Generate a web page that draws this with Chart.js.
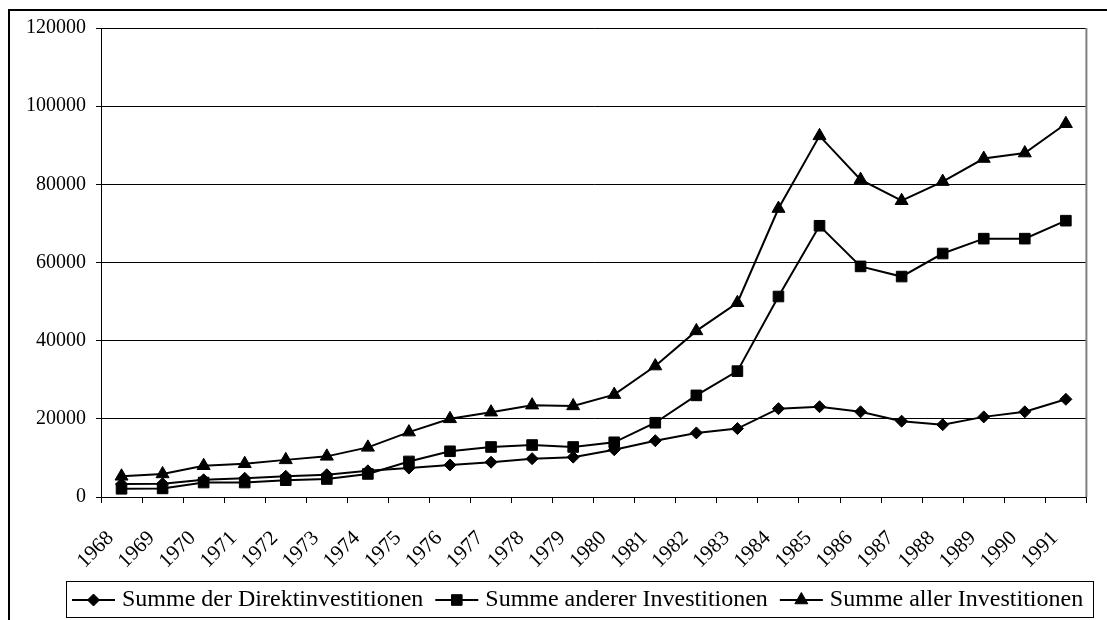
<!DOCTYPE html>
<html>
<head>
<meta charset="utf-8">
<title>Investitionen 1968-1991</title>
<script src="https://cdn.jsdelivr.net/npm/chart.js@4.4.1/dist/chart.umd.min.js"></script>
<style>
  html, body { margin: 0; padding: 0; background: #fff; }
  #wrap { width: 1107px; height: 620px; position: relative; }
</style>
</head>
<body>
<div id="wrap"><canvas id="chart"></canvas></div>
<script>
const years = ['1968', '1969', '1970', '1971', '1972', '1973', '1974', '1975', '1976', '1977', '1978', '1979',
  '1980', '1981', '1982', '1983', '1984', '1985', '1986', '1987', '1988', '1989', '1990', '1991'];

const direkt = [3300, 3400, 4400, 4800, 5300, 5700, 6700, 7400, 8200, 8900, 9800, 10200,
  12100, 14400, 16400, 17500, 22600, 23100, 21800, 19400, 18500, 20500, 21800, 25000];
const andere = [2100, 2200, 3700, 3700, 4300, 4600, 5900, 9100, 11700, 12800, 13300, 12800,
  14000, 19000, 26000, 32200, 51300, 69400, 59000, 56400, 62300, 66100, 66100, 70700];
const alle = [5300, 5900, 8000, 8500, 9500, 10400, 12700, 16600, 20000, 21700, 23500, 23300,
  26200, 33500, 42500, 49700, 73800, 92400, 81200, 75800, 80700, 86600, 88000, 95500];

const seriesNames = ['Summe der Direktinvestitionen', 'Summe anderer Investitionen', 'Summe aller Investitionen'];
const yTicks = [0, 20000, 40000, 60000, 80000, 100000, 120000];

const serif = '"Liberation Serif", "Times New Roman", serif';

function series(label, data, style, radius) {
  return {
    label,
    data,
    borderColor: '#000',
    borderWidth: 2,
    backgroundColor: '#000',
    pointStyle: style,
    pointRadius: radius,
    pointBackgroundColor: '#000',
    pointBorderColor: '#000',
    pointBorderWidth: 1,
    tension: 0,
  };
}

// excel-like frame, plot border and boxed legend
const decor = {
  id: 'decor',
  beforeDraw(chart) {
    const { ctx } = chart;
    ctx.save();
    ctx.fillStyle = '#fff';
    ctx.fillRect(0, 0, chart.width, chart.height);
    ctx.strokeStyle = '#000';
    ctx.lineWidth = 2;
    ctx.beginPath();
    ctx.moveTo(9, chart.height);
    ctx.lineTo(9, 10);
    ctx.lineTo(chart.width, 10);
    ctx.stroke();
    ctx.restore();
  },
  afterDraw(chart) {
    const { ctx, chartArea } = chart;
    ctx.save();
    ctx.strokeStyle = '#808080';
    ctx.lineWidth = 2;
    ctx.beginPath();
    ctx.moveTo(chartArea.right, chartArea.top);
    ctx.lineTo(chartArea.right, chartArea.bottom);
    ctx.stroke();

    // legend
    const box = { left: 66, top: 581, right: 1093, bottom: 617 };
    ctx.strokeStyle = '#000';
    ctx.lineWidth = 1;
    ctx.strokeRect(box.left + 0.5, box.top + 0.5, box.right - box.left, box.bottom - box.top);
    ctx.font = '24px ' + serif;
    ctx.textBaseline = 'middle';
    ctx.fillStyle = '#000';
    const cy = (box.top + box.bottom) / 2 + 1;
    let x = 72;
    chart.data.datasets.forEach((ds) => {
      ctx.lineWidth = 2;
      ctx.strokeStyle = '#000';
      ctx.beginPath();
      ctx.moveTo(x, cy);
      ctx.lineTo(x + 43, cy);
      ctx.stroke();
      ctx.lineWidth = 1;
      Chart.helpers.drawPoint(ctx, { pointStyle: ds.pointStyle, radius: ds.pointRadius, borderWidth: 1 }, x + 21.5, cy);
      ctx.fillText(ds.label, x + 50, cy);
      x += 50 + ctx.measureText(ds.label).width + 12;
    });
    ctx.restore();
  },
};

new Chart(document.getElementById('chart'), {
  type: 'line',
  data: {
    labels: years,
    datasets: [
      series(seriesNames[0], direkt, 'rectRot', 6),
      series(seriesNames[1], andere, 'rect', 7.5),
      series(seriesNames[2], alle, 'triangle', 7.5),
    ],
  },
  options: {
    responsive: true,
    maintainAspectRatio: false,
    animation: false,
    layout: { padding: { left: 0, right: 15, top: 28, bottom: 0 } },
    plugins: {
      legend: { display: false },
      tooltip: { enabled: false },
    },
    scales: {
      x: {
        type: 'category',
        offset: true,
        afterFit: (s) => { s.height = 123; },
        grid: {
          offset: true,
          drawOnChartArea: false,
          tickLength: 6,
          tickColor: '#000',
          color: '#000',
        },
        border: { color: '#000', width: 1 },
        ticks: {
          autoSkip: false,
          minRotation: 45,
          maxRotation: 45,
          padding: 23,
          labelOffset: -11,
          color: '#000',
          font: { family: serif, size: 21 },
        },
      },
      y: {
        min: yTicks[0],
        max: yTicks[yTicks.length - 1],
        afterFit: (s) => { s.width = 101; },
        afterBuildTicks: (s) => { s.ticks = yTicks.map((v) => ({ value: v })); },
        grid: {
          color: '#000',
          lineWidth: 1,
          tickLength: 5,
          tickColor: '#000',
        },
        border: { color: '#000', width: 1 },
        ticks: {
          padding: 10,
          color: '#000',
          font: { family: serif, size: 20 },
          callback: (v) => String(v),
        },
      },
    },
  },
  plugins: [decor],
});
</script>
</body>
</html>
